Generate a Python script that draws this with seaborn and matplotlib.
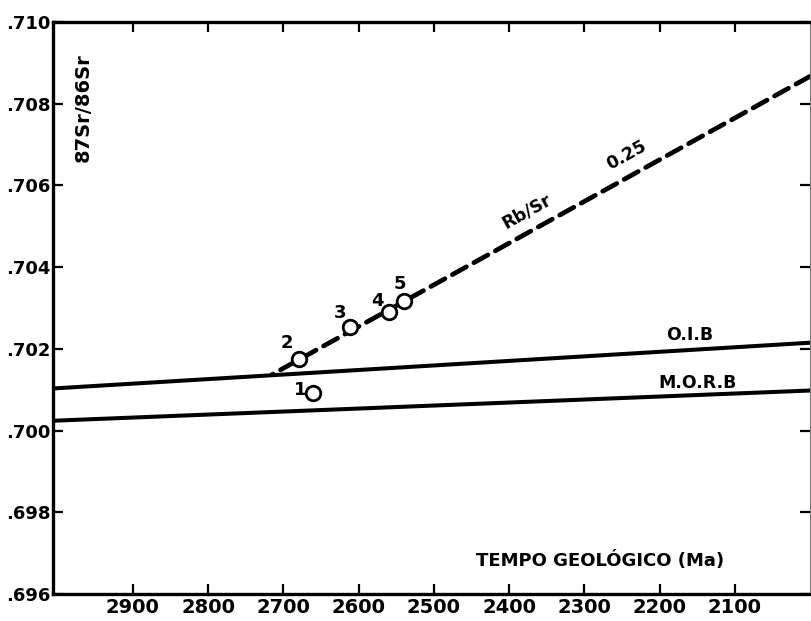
import matplotlib
matplotlib.use("Agg")
import matplotlib.pyplot as plt
import seaborn as sns
import pandas as pd
import numpy as np

# ---- data ----
line_ages = [3006, 2000]                 # Ma, axis extent
morb_values = [0.70024, 0.70098]         # M.O.R.B evolution line
oib_values = [0.70103, 0.70215]          # O.I.B evolution line
rbsr_ages = [2715, 2000]                 # Rb/Sr 0.25 growth line
rbsr_values = [0.70137, 0.70867]

sample_ids = ["1", "2", "3", "4", "5"]
sample_ages = [2661, 2679, 2612, 2560, 2540]
sample_ratios = [0.70093, 0.70176, 0.70254, 0.70291, 0.70317]

x_ticks = [2900, 2800, 2700, 2600, 2500, 2400, 2300, 2200, 2100]
y_ticks = [0.696, 0.698, 0.700, 0.702, 0.704, 0.706, 0.708, 0.710]
y_tick_labels = [".696", ".698", ".700", ".702", ".704", ".706", ".708", ".710"]

sns.set_theme(style="ticks")
plt.rcParams['font.family'] = ['DejaVu Sans']
plt.rcParams['text.color'] = 'black'
plt.rcParams['xtick.color'] = 'black'
plt.rcParams['ytick.color'] = 'black'
plt.rcParams['xtick.labelcolor'] = 'black'
plt.rcParams['ytick.labelcolor'] = 'black'

fig = plt.figure(figsize=(8.11, 6.21), dpi=100)
ax = fig.add_axes([0.0654, 0.0435, 0.9334, 0.9211])

df_lines = pd.DataFrame({
    "age": line_ages * 2,
    "ratio": morb_values + oib_values,
    "series": ["MORB"] * 2 + ["OIB"] * 2,
})
for name, sub in df_lines.groupby("series"):
    sns.lineplot(data=sub, x="age", y="ratio", ax=ax, color="black",
                 linewidth=2.9, legend=False, solid_capstyle="butt")

df_rb = pd.DataFrame({"age": rbsr_ages, "ratio": rbsr_values})
sns.lineplot(data=df_rb, x="age", y="ratio", ax=ax, color="black",
             linewidth=3.4, legend=False)
ax.lines[-1].set_dashes((3.4, 1.8))
ax.lines[-1].set_dash_capstyle("round")

df_pts = pd.DataFrame({"age": sample_ages, "ratio": sample_ratios, "id": sample_ids})
sns.scatterplot(data=df_pts, x="age", y="ratio", ax=ax, s=110, marker="o",
                facecolor="white", edgecolor="black", linewidth=2.0,
                zorder=5, legend=False)

label_offsets = {"1": (-9, 2), "2": (-9, 11), "3": (-7, 10), "4": (-8, 8), "5": (-3, 12)}
for pid, a, r in zip(sample_ids, sample_ages, sample_ratios):
    dx, dy = label_offsets[pid]
    ax.annotate(pid, (a, r), xytext=(dx, dy), textcoords="offset points",
                ha="center", va="center", fontsize=13, fontweight="bold",
                color="black")

ax.text(2376, 0.70537, "Rb/Sr", rotation=29, ha="center", va="center",
        fontsize=12.5, fontweight="bold", color="black")
ax.text(2244, 0.70674, "0.25", rotation=29, ha="center", va="center",
        fontsize=12.5, fontweight="bold", color="black")
ax.text(2160, 0.70234, "O.I.B", ha="center", va="center",
        fontsize=12.5, fontweight="bold", color="black")
ax.text(2150, 0.70117, "M.O.R.B", ha="center", va="center",
        fontsize=12.5, fontweight="bold", color="black")
ax.text(0.7226, 0.0594, "TEMPO GEOLÓGICO (Ma)", transform=ax.transAxes,
        ha="center", va="center", fontsize=13, fontweight="bold", color="black")
ax.text(0.0396, 0.85, "87Sr/86Sr", transform=ax.transAxes, rotation=90,
        ha="center", va="center", fontsize=14, fontweight="bold", color="black")

ax.set_xlim(3006, 2000)
ax.set_ylim(0.696, 0.710)
ax.set_xticks(x_ticks)
ax.set_xticklabels([str(t) for t in x_ticks], fontsize=14, fontweight="bold")
ax.set_yticks(y_ticks)
ax.set_yticklabels(y_tick_labels, fontsize=13, fontweight="bold")
ax.set_xlabel("")
ax.set_ylabel("")

ax.tick_params(axis="both", direction="in", length=7, width=1.6, color="black",
               labelcolor="black", top=True, right=True, pad=3)
ax.tick_params(axis="y", pad=2)
for side in ["left", "bottom", "top"]:
    ax.spines[side].set_linewidth(2.4)
    ax.spines[side].set_color("black")
ax.spines["right"].set_linewidth(0.8)
ax.spines["right"].set_color("#777777")

fig.savefig("out.png", dpi=100)
